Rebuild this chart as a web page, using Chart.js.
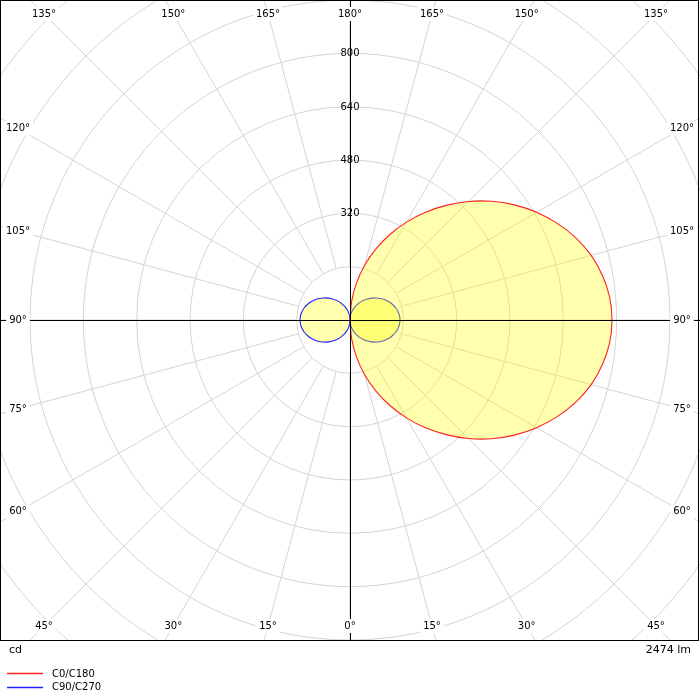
<!DOCTYPE html>
<html><head><meta charset="utf-8">
<script src="https://cdn.jsdelivr.net/npm/chart.js@4"></script>
<style>
html,body{margin:0;padding:0;background:#fff;}
#wrap{position:relative;width:700px;height:700px;}
canvas{position:absolute;left:0;top:0;}
.t{position:absolute;font-family:"DejaVu Sans";color:#000;white-space:nowrap;}
</style></head><body>
<div id="wrap">
<canvas id="c" width="700" height="700"></canvas>
<div class="t" style="left:9px;top:643px;font-size:11px;line-height:13px;">cd</div>
<div class="t" style="right:9px;top:643px;font-size:11px;line-height:13px;">2474 lm</div>
<div class="t" style="left:52px;top:668px;font-size:10px;line-height:12px;">C0/C180</div>
<div class="t" style="left:52px;top:681px;font-size:10px;line-height:12px;">C90/C270</div>
</div>
<script>
// gamma angles (deg, 0 = down, 180 = up)
const gamma = [0,5,10,15,20,25,30,35,40,45,50,55,60,65,70,75,80,85,90,95,100,105,110,115,120,125,130,135,140,145,150,155,160,165,170,175,180];
// luminous intensity (cd) per C-plane
const c0   = [0,57,113,170,226,283,339,395,449,503,554,602,646,686,721,749,769,782,786,782,769,749,721,686,646,602,554,503,449,395,339,283,226,170,113,57,0];
const c180 = [0,0,0,0,0,0,0,0,0,0,0,0,0,0,0,0,0,0,0,0,0,0,0,0,0,0,0,0,0,0,0,0,0,0,0,0,0];
const c90  = [0,10,20,31,41,51,62,72,82,93,103,112,121,129,136,142,146,149,150,149,146,142,136,129,121,112,103,93,82,72,62,51,41,31,20,10,0];
const c270 = [0,10,20,31,41,51,62,72,82,93,103,112,121,129,136,142,146,149,150,149,146,142,136,129,121,112,103,93,82,72,62,51,41,31,20,10,0];
// grid
const ringValues = [160,320,480,640,800,960,1120,1280,1440];
const ringLabelValues = [320,480,640,800];
const ringLabels = ['320','480','640','800'];
const angleTicks = [0,15,30,45,60,75,90,105,120,135,150,165,180];
const angleLabels = angleTicks.map(a => a + '°');
const seriesNames = ['C0/C180','C90/C270'];
const seriesColors = ['#ff2020','#2020ff'];

const rad = d => d * Math.PI / 180;
function toXY(side, vals){
  // side: +1 right half, -1 left half
  return vals.map((v,i)=>({x: side * v * Math.sin(rad(gamma[i])), y: -v * Math.cos(rad(gamma[i]))}));
}
const redPts = toXY(1, c0).concat(toXY(-1, c180).reverse());
const bluePts = toXY(1, c90).concat(toXY(-1, c270).reverse());

const FONT = '10px "DejaVu Sans"';

const polarGrid = {
  id: 'polarGrid',
  beforeDatasetsDraw(chart){
    const {ctx, chartArea:a, scales:{x, y}} = chart;
    const cx = x.getPixelForValue(0), cy = y.getPixelForValue(0);
    ctx.save();
    ctx.beginPath(); ctx.rect(a.left, a.top, a.right-a.left, a.bottom-a.top); ctx.clip();
    ctx.strokeStyle = '#d4d4d4'; ctx.lineWidth = 1;
    ringValues.forEach(v => {
      const r = x.getPixelForValue(v) - cx;
      ctx.beginPath(); ctx.arc(cx, cy, r, 0, 2*Math.PI); ctx.stroke();
    });
    const r0 = x.getPixelForValue(ringValues[0]) - cx;
    const r1 = 2000;
    angleTicks.forEach(g => {
      [1,-1].forEach(s => {
        const dx = s*Math.sin(rad(g)), dy = Math.cos(rad(g));
        ctx.beginPath(); ctx.moveTo(cx+dx*r0, cy+dy*r0); ctx.lineTo(cx+dx*r1, cy+dy*r1); ctx.stroke();
      });
    });
    ctx.restore();
  },
  afterDatasetsDraw(chart){
    const {ctx, chartArea:a, scales:{x, y}} = chart;
    const cx = x.getPixelForValue(0), cy = y.getPixelForValue(0);
    const ax = Math.round(cx)+0.5, ay = Math.round(cy)+0.5;
    ctx.save();
    ctx.strokeStyle = '#000'; ctx.lineWidth = 1;
    ctx.beginPath();
    ctx.moveTo(a.left, ay); ctx.lineTo(a.right, ay);
    ctx.moveTo(ax, a.top); ctx.lineTo(ax, a.bottom);
    ctx.stroke();
    // frame
    ctx.strokeRect(a.left+0.5, a.top+0.5, a.right-a.left-2, a.bottom-a.top);
    ctx.font = FONT; ctx.textAlign = 'center'; ctx.textBaseline = 'middle';
    ctx.fillStyle = '#000';
    // ring labels
    ringLabelValues.forEach((v,i) => {
      ctx.fillText(ringLabels[i], cx, y.getPixelForValue(v) + 0.5);
    });
    // angle labels at inset frame
    const insetX = 18, insetY = 14;
    const hw = cx - a.left - insetX, htop = cy - a.top - insetY, hbot = a.bottom - insetY - cy;
    angleTicks.forEach((g,i) => {
      const sides = (g === 0 || g === 180) ? [1] : [1,-1];
      sides.forEach(s => {
        const dx = s*Math.sin(rad(g)), dy = Math.cos(rad(g));
        let t = Infinity;
        if (Math.abs(dx) > 1e-9) t = Math.min(t, hw/Math.abs(dx));
        if (Math.abs(dy) > 1e-9) t = Math.min(t, (dy > 0 ? hbot : htop)/Math.abs(dy));
        const px = cx + dx*t, py = cy + dy*t;
        const w = ctx.measureText(angleLabels[i]).width;
        ctx.fillStyle = '#fff';
        ctx.fillRect(px - w/2 - 3, py - 7, w + 6, 14);
        ctx.fillStyle = '#000';
        ctx.fillText(angleLabels[i], px, py);
      });
    });
    // legend line samples
    seriesNames.forEach((n,i) => {
      const ly = a.bottom + 33.5 + i*14;
      ctx.strokeStyle = seriesColors[i];
      ctx.lineWidth = 1.6;
      ctx.beginPath(); ctx.moveTo(7, ly); ctx.lineTo(43, ly); ctx.stroke();
    });
    ctx.restore();
  }
};

new Chart(document.getElementById('c'), {
  type: 'line',
  data: {
    datasets: [
      {label:seriesNames[0], data: redPts, borderColor:seriesColors[0], borderWidth:1.1, backgroundColor:'rgba(255,255,0,0.32)', fill:'shape', pointRadius:0, tension:0.35},
      {label:seriesNames[1], data: bluePts, borderColor:seriesColors[1], borderWidth:1.1, backgroundColor:'rgba(255,255,0,0.32)', fill:'shape', pointRadius:0, tension:0.35}
    ]
  },
  options: {
    responsive:false, animation:false,
    layout:{padding:{left:0,right:0,top:0,bottom:60}},
    scales:{
      x:{type:'linear', min:-1050, max:1050, display:false},
      y:{type:'linear', min:-960, max:960, display:false}
    },
    plugins:{legend:{display:false}, tooltip:{enabled:false}}
  },
  plugins:[polarGrid]
});
</script>
</body></html>
